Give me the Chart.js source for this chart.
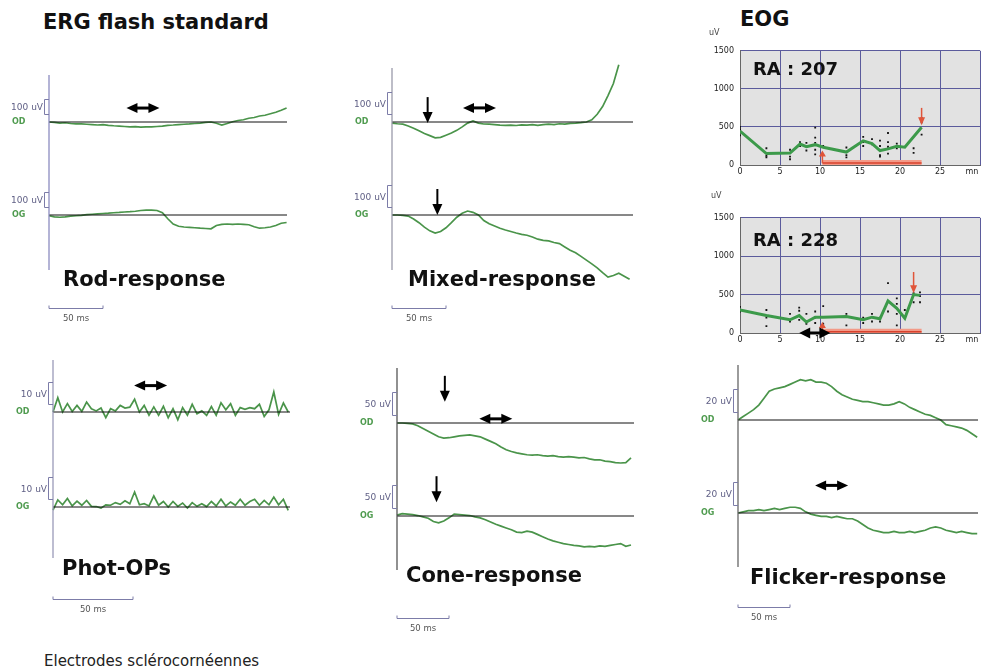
<!DOCTYPE html>
<html lang="fr">
<head>
<meta charset="UTF-8">
<title>ERG / EOG</title>
<script src="https://cdn.jsdelivr.net/npm/chart.js@4"></script>
<style>
  body { margin: 0; width: 984px; height: 671px; overflow: hidden; position: relative; background: #fff;
         font-family: "DejaVu Sans", Verdana, sans-serif; }
  canvas { position: absolute; }
  .t { position: absolute; line-height: 1; white-space: nowrap; z-index: 2; color: #111; }
  .big { font-weight: bold; font-size: 21px; }
  .ra { font-weight: bold; font-size: 18px; }
  .uv { font-size: 8px; color: #444; }
</style>
</head>
<body>
<div class="t big" style="left:43px;top:12px">ERG flash standard</div>
<div class="t big" style="left:740px;top:9px">EOG</div>
<div class="t uv" style="left:709px;top:29px">uV</div>
<div class="t uv" style="left:711px;top:192px">uV</div>
<div class="t ra" style="left:753px;top:60px">RA : 207</div>
<div class="t ra" style="left:753px;top:231px">RA : 228</div>
<div class="t big" style="left:63px;top:269px">Rod-response</div>
<div class="t big" style="left:408px;top:269px">Mixed-response</div>
<div class="t big" style="left:62px;top:558px">Phot-OPs</div>
<div class="t big" style="left:406px;top:565px">Cone-response</div>
<div class="t big" style="left:750px;top:567px">Flicker-response</div>
<div class="t" style="left:44px;top:654px;font-size:15px;color:#222">Electrodes sclérocornéennes</div>

<canvas id="rod"></canvas>
<canvas id="mixed"></canvas>
<canvas id="ops"></canvas>
<canvas id="cone"></canvas>
<canvas id="flicker"></canvas>
<canvas id="eog1"></canvas>
<canvas id="eog2"></canvas>

<script>
// --- ERG traces (uV, un point tous les "step" ms) ---
const rodStep = 5;
const rodOD = [0,-3,-7,-5,-10,-12,-13,-15,-17,-20,-18,-22,-25,-27,-30,-33,-31,-34,-32,-33,-30,-27,-22,-20,-17,-15,-13,-10,-7,-3,0,-8,-20,-10,2,10,15,25,30,40,45,55,65,78,93];
const rodOG = [-5,-12,-15,-12,-8,-5,-2,2,5,8,10,12,15,17,20,22,25,30,33,32,30,15,-25,-60,-75,-80,-82,-85,-88,-90,-92,-70,-62,-60,-62,-60,-62,-65,-78,-88,-85,-80,-70,-55,-50];
const rodDown = [];
const rodBoth = [[87, 93, 'OD']];

const mixedStep = 5;
const mixedOD = [-5,-8,-10,-18,-28,-40,-52,-62,-72,-70,-60,-50,-38,-22,-5,5,-5,-9,-10,-12,-14,-15,-14,-16,-13,-14,-12,-15,-12,-10,-12,-8,-10,-6,-5,-3,0,10,35,70,120,175,260];
const mixedOG = [0,0,-2,-5,-18,-35,-55,-72,-82,-75,-58,-35,-10,8,18,12,0,-25,-40,-50,-60,-68,-75,-82,-88,-92,-100,-110,-115,-118,-125,-130,-145,-160,-172,-188,-205,-222,-240,-262,-282,-275,-265,-278,-292];
const mixedDown = [[33, -5, 'OD'], [42, 0, 'OG']];
const mixedBoth = [[81, 64, 'OD']];

const opsStep = 3;
const opsOD = [0,6.5,0,3.8,0.2,3.0,0.3,4.5,1.5,0.5,1.8,-2.6,1.5,0.5,3.0,1.8,2.2,5.8,0,3.0,-1.5,2.3,-1.5,2.6,-2.6,1.5,-3.5,2.0,-1.5,3.5,-0.8,0.5,-1.5,2.5,-1.5,4.2,1.0,3.8,-1.5,2.0,1.2,2.0,1.5,3.5,-2.0,1.0,9.1,-1.1,4.1,0];
const opsOG = [-1.4,3.2,1.0,3.9,0.5,2.7,0.8,3.0,0.3,0.2,-0.5,1.0,0.8,2.0,1.2,2.8,1.5,6.8,1.0,1.5,0.5,5.0,0.8,2.5,0,2.5,0.3,1.8,-0.5,2.0,0.3,1.5,0.2,2.5,0.5,3.5,0.5,2.3,0.8,3.5,0.8,2.5,3.5,0.8,3.0,1.0,4.5,1.0,3.5,-1.5];
const opsDown = [];
const opsBoth = [[61, 12, 'OD']];

const coneStep = 5;
const coneOD = [0,0,-1,-2,-6,-12,-18,-24,-30,-33,-32,-30,-28,-27,-26,-28,-30,-35,-40,-45,-52,-58,-62,-65,-67,-69,-70,-69,-71,-72,-71,-73,-74,-73,-74,-76,-75,-78,-80,-80,-83,-84,-86,-87,-86,-76];
const coneOG = [2,5,4,3,1,-2,-5,-12,-15,-11,-4,4,3,2,1,-2,-4,-8,-13,-18,-22,-26,-30,-35,-36,-33,-35,-40,-45,-50,-54,-57,-60,-62,-64,-65,-67,-66,-67,-65,-66,-64,-62,-60,-66,-63];
const coneDown = [[46, 46, 'OD'], [38, 30, 'OG']];
const coneBoth = [[95, 9, 'OD']];

const flickStep = 5;
const flickOD = [0,3,6,9,13,19,25,27,28,29,31,33,35,34,35,33,33,32,29,25,22,20,18,17,16,16,15,14,13,13,14,16,14,11,9,7,5,4,2,0,-4,-5,-6,-7,-9,-12,-15];
const flickOG = [0,1,2,2,3,2,3,4,3,4,5,5,4,1,-1,-2,-3,-3,-4,-3,-4,-5,-5,-7,-10,-13,-15,-16,-17,-17,-16,-17,-17,-16,-17,-16,-15,-13,-12,-13,-15,-16,-17,-16,-17,-18,-18];
const flickDown = [];
const flickBoth = [[90, 24, 'OG']];

// --- EOG (mn, uV) ---
const eogTicksX = [0, 5, 10, 15, 20, 25];
const eogTicksY = [0, 500, 1000, 1500];

const eog1T = [0, 3.3, 6.25, 7.5, 8.3, 9.4, 10.4, 13.3, 15.4, 16.5, 17.5, 18.5, 19.6, 20.6, 22.7];
const eog1V = [445, 150, 157, 275, 240, 267, 233, 170, 318, 280, 190, 212, 246, 233, 496];
const eog1Dots = [[0,500],[0,470],[0,390],[3.3,220],[3.3,120],[3.3,100],[6.25,200],[6.25,110],[6.25,75],[7.5,300],[7.5,250],[8.3,290],[8.3,190],[9.4,490],[9.4,360],[9.4,290],[9.4,200],[9.4,140],[10.4,250],[10.4,130],[13.3,230],[13.3,130],[13.3,100],[15.4,370],[15.4,300],[15.4,250],[16.5,340],[16.5,270],[17.5,320],[17.5,250],[17.5,130],[17.5,110],[18.5,420],[18.5,300],[18.5,240],[18.5,150],[19.6,280],[19.6,220],[21.7,220],[21.7,160],[22.7,620],[22.7,560],[22.7,400]];
const eog1Bar = [[10.3, 25], [22.7, 25]];
const eog1RedUp = [10.3, 25, 190];
const eog1RedDown = [22.7, 750, 521];

const eog2T = [0, 3.3, 6.25, 7.4, 8.3, 9.4, 10.4, 13.3, 15.4, 16.5, 17.5, 18.5, 19.6, 20.6, 21.7, 22.5];
const eog2V = [300, 227, 172, 227, 143, 206, 206, 214, 172, 206, 185, 418, 320, 192, 500, 490];
const eog2Dots = [[0,340],[0,280],[3.3,300],[3.3,200],[3.3,90],[6.25,250],[6.25,150],[7.4,330],[7.4,290],[7.4,170],[8.3,250],[8.3,120],[9.4,280],[9.4,200],[9.4,130],[10.4,350],[10.4,120],[13.3,250],[13.3,100],[15.4,200],[15.4,130],[16.5,250],[16.5,150],[17.5,200],[17.5,150],[18.5,650],[18.5,280],[19.6,450],[19.6,380],[19.6,250],[19.6,100],[20.6,300],[20.6,200],[21.7,520],[21.7,400],[22.5,530],[22.5,480],[22.5,400]];
const eog2Bar = [[10.3, 16], [22.7, 16]];
const eog2RedUp = [10.3, 16, 142];
const eog2RedDown = [21.7, 794, 517];
const eog2Both = [7.4, 11.3, 0];

Chart.defaults.font.family = '"DejaVu Sans", Verdana, sans-serif';
const GREEN = '#4a944a';

function seg(ctx, x1, y1, x2, y2) { ctx.beginPath(); ctx.moveTo(x1, y1); ctx.lineTo(x2, y2); ctx.stroke(); }
function tri(ctx, a, b, c) { ctx.beginPath(); ctx.moveTo(a[0], a[1]); ctx.lineTo(b[0], b[1]); ctx.lineTo(c[0], c[1]); ctx.closePath(); ctx.fill(); }

function downArrow(ctx, x, yTip, len, w, hl, lw) {
  ctx.lineWidth = lw;
  seg(ctx, x, yTip - len, x, yTip - hl + 1);
  tri(ctx, [x - w / 2, yTip - hl], [x + w / 2, yTip - hl], [x, yTip]);
}
function upArrow(ctx, x, yTip, yFrom, w, hl, lw) {
  ctx.lineWidth = lw;
  seg(ctx, x, yFrom, x, yTip + hl - 1);
  tri(ctx, [x - w / 2, yTip + hl], [x + w / 2, yTip + hl], [x, yTip]);
}
function bothArrow(ctx, x1, x2, y, hl, hh, lw) {
  ctx.lineWidth = lw;
  seg(ctx, x1 + hl - 1, y, x2 - hl + 1, y);
  tri(ctx, [x1, y], [x1 + hl, y - hh], [x1 + hl, y + hh]);
  tri(ctx, [x2, y], [x2 - hl, y - hh], [x2 - hl, y + hh]);
}

// g = geometrie du panneau (px), d = donnees
function ergPanel(id, g, d) {
  const f = g.scale / g.bracketPx;
  const base = { OD: 0, OG: -(g.b2 - g.b1) * f };
  const xMax = (g.right - g.axisX) * 50 / g.ms50;
  const pad = { left: 48, right: 6, top: 10, bottom: 66 };
  const cv = document.getElementById(id);
  cv.width = g.right - g.axisX + pad.left + pad.right;
  cv.height = g.bottom - g.top + pad.top + pad.bottom;
  cv.style.left = (g.axisX - pad.left) + 'px';
  cv.style.top = (g.top - pad.top) + 'px';

  const baseLine = b => ({ data: [{ x: 0, y: b }, { x: xMax, y: b }], borderColor: '#111', borderWidth: 1, pointRadius: 0 });
  const trace = (vals, b) => ({
    data: vals.map((v, i) => ({ x: i * d.step, y: v + b })),
    borderColor: GREEN, borderWidth: 1.7, pointRadius: 0, tension: 0, clip: false
  });

  new Chart(cv, {
    type: 'line',
    data: { datasets: [baseLine(base.OD), baseLine(base.OG), trace(d.od, base.OD), trace(d.og, base.OG)] },
    options: {
      responsive: false, animation: false, events: [],
      layout: { padding: pad },
      plugins: { legend: { display: false }, tooltip: { enabled: false } },
      scales: {
        x: { type: 'linear', display: false, min: 0, max: xMax },
        y: { display: false, min: -(g.bottom - g.b1) * f, max: (g.b1 - g.top) * f }
      }
    },
    plugins: [{
      id: 'ergDecor',
      afterDatasetsDraw(chart) {
        const { ctx, chartArea: a, scales: { x, y } } = chart;
        ctx.save();
        ctx.strokeStyle = g.axisColor; ctx.lineWidth = 1.3;
        seg(ctx, a.left, a.top, a.left, a.bottom);

        ['OD', 'OG'].forEach(k => {
          const yb = y.getPixelForValue(base[k]);
          const y0 = Math.round(y.getPixelForValue(base[k] + 8 * f)) + 0.5;
          const y1 = Math.round(y.getPixelForValue(base[k] + 8 * f + g.scale)) + 0.5;
          ctx.strokeStyle = '#7c7ca8'; ctx.lineWidth = 1;
          ctx.beginPath();
          ctx.moveTo(a.left, y1); ctx.lineTo(a.left - 4.5, y1); ctx.lineTo(a.left - 4.5, y0); ctx.lineTo(a.left, y0);
          ctx.stroke();
          ctx.textBaseline = 'middle';
          ctx.font = '9px "DejaVu Sans"'; ctx.fillStyle = '#5f5f85'; ctx.textAlign = 'right';
          ctx.fillText(g.scale + ' uV', a.left - 6, (y0 + y1) / 2 + 1);
          ctx.font = 'bold 8px "DejaVu Sans"'; ctx.fillStyle = '#4f9b4f'; ctx.textAlign = 'left';
          ctx.fillText(k, a.left - 37, yb);
        });

        // barre d'echelle 50 ms
        const sy = Math.round(a.bottom + g.barDy) + 0.5;
        const x0 = x.getPixelForValue(0), x50 = x.getPixelForValue(50);
        ctx.strokeStyle = '#7c7ca8'; ctx.lineWidth = 1;
        ctx.beginPath();
        ctx.moveTo(x0, sy - 3); ctx.lineTo(x0, sy); ctx.lineTo(x50, sy); ctx.lineTo(x50, sy - 3);
        ctx.stroke();
        ctx.font = '8.5px "DejaVu Sans"'; ctx.fillStyle = '#555'; ctx.textAlign = 'center'; ctx.textBaseline = 'middle';
        ctx.fillText('50 ms', (x0 + x50) / 2, sy + 10);

        ctx.fillStyle = '#000'; ctx.strokeStyle = '#000';
        d.down.forEach(([t, v, k]) => downArrow(ctx, x.getPixelForValue(t), y.getPixelForValue(v + base[k]), 26, 10, 11, 2));
        d.both.forEach(([t, v, k]) => {
          const xc = x.getPixelForValue(t), yc = y.getPixelForValue(v + base[k]);
          bothArrow(ctx, xc - 16.5, xc + 16.5, yc, 11, 5, 3);
        });
        ctx.restore();
      }
    }]
  });
}

function eogPanel(id, top, height, d) {
  const cv = document.getElementById(id);
  cv.width = 284; cv.height = height;
  cv.style.left = '700px'; cv.style.top = top + 'px';
  const pts = arr => arr.map(p => ({ x: p[0], y: p[1] }));

  new Chart(cv, {
    type: 'line',
    data: {
      datasets: [
        { data: d.t.map((t, i) => ({ x: t, y: d.v[i] })), borderColor: '#3c9a4a', borderWidth: 3, pointRadius: 0 },
        { data: pts(d.dots), showLine: false, pointRadius: 1.3, pointStyle: 'rect', pointBackgroundColor: '#111', pointBorderWidth: 0 },
        { data: pts(d.bar), borderColor: '#d8412c', borderWidth: 1.5, pointRadius: 0 },
        { data: pts(d.bar), borderColor: '#f39a88', borderWidth: 6, pointRadius: 0 }
      ]
    },
    options: {
      responsive: false, animation: false, events: [],
      layout: { padding: { top: 7, right: 4, left: 0, bottom: 0 } },
      plugins: { legend: { display: false }, tooltip: { enabled: false } },
      scales: {
        x: {
          type: 'linear', min: 0, max: 30,
          afterBuildTicks: s => { s.ticks = eogTicksX.concat([30]).map(v => ({ value: v })); },
          afterFit: s => { s.height = 16; },
          ticks: { autoSkip: false, maxRotation: 0, padding: 2, color: '#222', font: { size: 8 },
                   callback: v => (v === 30 ? '' : String(v)) },
          grid: { color: '#5b5b9c', drawTicks: false },
          border: { color: '#666' }
        },
        y: {
          min: 0, max: 1500,
          afterBuildTicks: s => { s.ticks = eogTicksY.map(v => ({ value: v })); },
          afterFit: s => { s.width = 40; },
          ticks: { padding: 6, color: '#222', font: { size: 8 }, callback: v => String(v) },
          grid: { color: '#5b5b9c', drawTicks: false },
          border: { color: '#666' }
        }
      }
    },
    plugins: [{
      id: 'eogBg',
      beforeDatasetsDraw(chart) {
        const { ctx, chartArea: a } = chart;
        ctx.save();
        ctx.globalCompositeOperation = 'destination-over';
        ctx.fillStyle = '#e2e2e2';
        ctx.fillRect(a.left, a.top, a.right - a.left, a.bottom - a.top);
        ctx.restore();
      },
      afterDatasetsDraw(chart) {
        const { ctx, chartArea: a, scales: { x, y } } = chart;
        ctx.save();
        ctx.fillStyle = '#e0553a'; ctx.strokeStyle = '#e0553a';
        upArrow(ctx, x.getPixelForValue(d.redUp[0]), y.getPixelForValue(d.redUp[2]), y.getPixelForValue(d.redUp[1]), 7, 6, 1.5);
        downArrow(ctx, x.getPixelForValue(d.redDown[0]), y.getPixelForValue(d.redDown[2]),
                  y.getPixelForValue(d.redDown[2]) - y.getPixelForValue(d.redDown[1]), 7, 8, 1.5);
        if (d.both) {
          ctx.fillStyle = '#000'; ctx.strokeStyle = '#000';
          bothArrow(ctx, x.getPixelForValue(d.both[0]), x.getPixelForValue(d.both[1]), y.getPixelForValue(d.both[2]), 11, 5.5, 3);
        }
        ctx.fillStyle = '#222'; ctx.font = '8px "DejaVu Sans"'; ctx.textAlign = 'center'; ctx.textBaseline = 'top';
        ctx.fillText('mn', x.getPixelForValue(30) - 8, a.bottom + 3);
        ctx.restore();
      }
    }]
  });
}

ergPanel('rod', { axisX: 49, right: 287, top: 75, bottom: 270, b1: 122, b2: 215, scale: 100, bracketPx: 15, ms50: 54, barDy: 38, axisColor: '#8c8cc0' },
  { step: rodStep, od: rodOD, og: rodOG, down: rodDown, both: rodBoth });
ergPanel('mixed', { axisX: 392, right: 633, top: 68, bottom: 270, b1: 122, b2: 215, scale: 100, bracketPx: 22, ms50: 54, barDy: 38, axisColor: '#9a9aaa' },
  { step: mixedStep, od: mixedOD, og: mixedOG, down: mixedDown, both: mixedBoth });
ergPanel('ops', { axisX: 53, right: 290, top: 360, bottom: 558, b1: 412, b2: 507, scale: 10, bracketPx: 22, ms50: 80, barDy: 41, axisColor: '#9a9ab8' },
  { step: opsStep, od: opsOD, og: opsOG, down: opsDown, both: opsBoth });
ergPanel('cone', { axisX: 397, right: 634, top: 368, bottom: 570, b1: 423, b2: 516, scale: 50, bracketPx: 23, ms50: 52, barDy: 48, axisColor: '#555' },
  { step: coneStep, od: coneOD, og: coneOG, down: coneDown, both: coneBoth });
ergPanel('flicker', { axisX: 738, right: 978, top: 365, bottom: 567, b1: 420, b2: 513, scale: 20, bracketPx: 23, ms50: 52, barDy: 40, axisColor: '#666' },
  { step: flickStep, od: flickOD, og: flickOG, down: flickDown, both: flickBoth });

eogPanel('eog1', 40, 141, { t: eog1T, v: eog1V, dots: eog1Dots, bar: eog1Bar, redUp: eog1RedUp, redDown: eog1RedDown });
eogPanel('eog2', 207, 142, { t: eog2T, v: eog2V, dots: eog2Dots, bar: eog2Bar, redUp: eog2RedUp, redDown: eog2RedDown, both: eog2Both });
</script>
</body>
</html>
